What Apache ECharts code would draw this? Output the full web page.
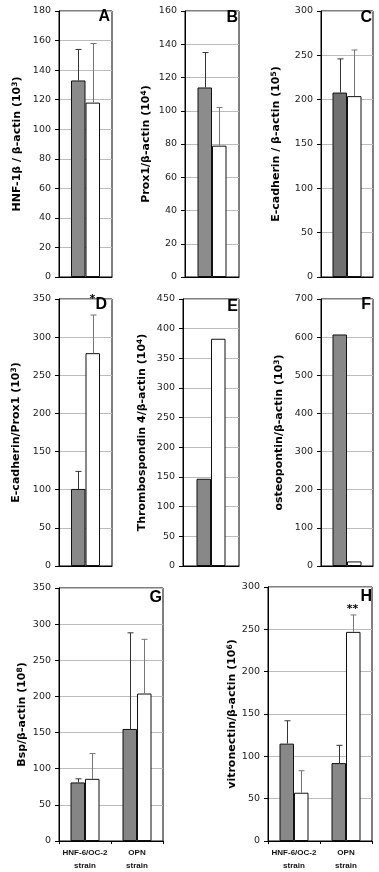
<!DOCTYPE html>
<html>
<head>
<meta charset="utf-8">
<script src="https://cdn.jsdelivr.net/npm/echarts@6/dist/echarts.min.js"></script>
<style>html,body{margin:0;padding:0;background:#fff;}#c{width:379px;height:872px;}</style>
</head>
<body>
<div id="c"></div>
<script>
// ---- data ----
const singleCat = [''];
const strainCats = ['HNF-6/OC-2\nstrain', 'OPN\nstrain'];

const aGray = [133], aWhite = [118], aGrayErr = [21], aWhiteErr = [40];
const bGray = [114], bWhite = [79], bGrayErr = [21], bWhiteErr = [23];
const cGray = [208], cWhite = [204], cGrayErr = [38], cWhiteErr = [52];
const dGray = [101], dWhite = [279], dGrayErr = [23], dWhiteErr = [50];
const eGray = [147], eWhite = [383];
const fGray = [607], fWhite = [12];
const gGray = [81, 155], gWhite = [86, 204], gGrayErr = [5, 133], gWhiteErr = [35, 75];
const hGray = [115, 92], hWhite = [57, 247], hGrayErr = [27, 21], hWhiteErr = [26, 20];

const dWhiteSig = ['*'];
const hWhiteSig = ['', '**'];

const yMax = [180, 160, 300, 350, 450, 700, 350, 300];
const yStep = [20, 20, 50, 50, 50, 100, 50, 50];
const panelLetters = ['A', 'B', 'C', 'D', 'E', 'F', 'G', 'H'];
const yTitles = [
  ['HNF-1β / β-actin (10', '3', ')'],
  ['Prox1/β-actin (10', '4', ')'],
  ['E-cadherin / β-actin (10', '5', ')'],
  ['E-cadherin/Prox1 (10', '3', ')'],
  ['Thrombospondin 4/β-actin (10', '4', ')'],
  ['osteopontin/β-actin (10', '3', ')'],
  ['Bsp/β-actin (10', '8', ')'],
  ['vitronectin/β-actin (10', '6', ')']
];

const panelData = [
  {cats: singleCat, gray: aGray, white: aWhite, grayErr: aGrayErr, whiteErr: aWhiteErr},
  {cats: singleCat, gray: bGray, white: bWhite, grayErr: bGrayErr, whiteErr: bWhiteErr},
  {cats: singleCat, gray: cGray, white: cWhite, grayErr: cGrayErr, whiteErr: cWhiteErr},
  {cats: singleCat, gray: dGray, white: dWhite, grayErr: dGrayErr, whiteErr: dWhiteErr, whiteSig: dWhiteSig},
  {cats: singleCat, gray: eGray, white: eWhite},
  {cats: singleCat, gray: fGray, white: fWhite},
  {cats: strainCats, gray: gGray, white: gWhite, grayErr: gGrayErr, whiteErr: gWhiteErr},
  {cats: strainCats, gray: hGray, white: hWhite, grayErr: hGrayErr, whiteErr: hWhiteErr, whiteSig: hWhiteSig}
];

// ---- layout / style ----
const layout = [
  {left: 59, top: 11, width: 53, height: 266, gap: 35, fill: '#8a8a8a', letterRight: 110, letterTop: 9, sigDy: 0},
  {left: 185, top: 11, width: 54, height: 266, gap: 32, fill: '#8c8c8c', letterRight: 238, letterTop: 10},
  {left: 321, top: 11, width: 52, height: 266, gap: 38, fill: '#707070', letterRight: 372, letterTop: 10},
  {left: 59, top: 299, width: 53, height: 267, gap: 36, fill: '#888888', letterRight: 107, letterTop: 297, sigDy: -9},
  {left: 183, top: 299, width: 56, height: 267, gap: 34, fill: '#888888', letterRight: 238, letterTop: 299},
  {left: 321, top: 299, width: 52, height: 267, gap: 35, fill: '#888888', letterRight: 371, letterTop: 297},
  {left: 59, top: 588, width: 104, height: 255, gap: 30, fill: '#858585', letterRight: 162, letterTop: 590},
  {left: 268, top: 587, width: 104, height: 255, gap: 29, fill: '#888888', letterRight: 372, letterTop: 589, sigDy: 1}
];
const BW = 14.5;
const W = 379;

const grid = [], xAxis = [], yAxis = [], series = [], title = [];

layout.forEach((L, i) => {
  const P = panelData[i];
  grid.push({left: L.left, top: L.top, width: L.width, height: L.height,
    show: true, borderColor: '#000', borderWidth: 1, backgroundColor: '#fff'});
  xAxis.push({type: 'category', gridIndex: i, data: P.cats,
    axisLine: {show: true, lineStyle: {color: '#000', width: 1}},
    axisTick: {show: P.cats.length > 1, length: 3, lineStyle: {color: '#000'}},
    axisLabel: {show: P.cats.length > 1, interval: 0, fontFamily: 'Liberation Sans', fontWeight: 'bold',
      fontSize: 8, color: '#111', lineHeight: 13, margin: 5},
    splitLine: {show: false}});
  const t = yTitles[i];
  yAxis.push({type: 'value', gridIndex: i, min: 0, max: yMax[i], interval: yStep[i],
    name: '{t|' + t[0] + '}{s|' + t[1] + '}{t|' + t[2] + '}',
    nameLocation: 'middle', nameGap: L.gap,
    nameTextStyle: {rich: {
      t: {fontFamily: 'DejaVu Sans', fontWeight: 'bold', fontSize: 11, color: '#000'},
      s: {fontFamily: 'DejaVu Sans', fontWeight: 'bold', fontSize: 7.5, color: '#000', verticalAlign: 'top', padding: [0, 0, 5, 0]}
    }},
    axisLine: {show: true, lineStyle: {color: '#000', width: 1}},
    axisTick: {show: true, length: 4, lineStyle: {color: '#000'}},
    axisLabel: {fontFamily: 'DejaVu Sans', fontSize: 9.5, color: '#222', margin: 8},
    splitLine: {show: true, lineStyle: {color: '#bcbcbc', width: 1}}});
  series.push({type: 'bar', xAxisIndex: i, yAxisIndex: i, data: P.gray, barWidth: BW, barGap: '0%',
    itemStyle: {color: L.fill, borderColor: '#111', borderWidth: 1}, silent: true, animation: false});
  series.push({type: 'bar', xAxisIndex: i, yAxisIndex: i, data: P.white, barWidth: BW, barGap: '0%',
    itemStyle: {color: '#fff', borderColor: '#111', borderWidth: 1}, silent: true, animation: false});

  const errData = [];
  if (P.grayErr) P.gray.forEach((v, k) => errData.push([k, v, P.grayErr[k], -1, '']));
  if (P.whiteErr) P.white.forEach((v, k) => errData.push([k, v, P.whiteErr[k], 1, P.whiteSig ? P.whiteSig[k] : '']));
  if (errData.length) {
    const sigDy = L.sigDy || 0;
    series.push({type: 'custom', xAxisIndex: i, yAxisIndex: i, data: errData, silent: true, animation: false,
      encode: {x: 0, y: 1}, z: 5,
      renderItem: function (params, api) {
        const cat = api.value(0), mean = api.value(1), err = api.value(2), side = api.value(3);
        const base = api.coord([cat, mean]);
        const top = api.coord([cat, mean + err]);
        const x = Math.round(base[0] + side * BW / 2) + 0.5;
        const col = side < 0 ? '#333' : '#777';
        const children = [
          {type: 'line', shape: {x1: x, y1: base[1], x2: x, y2: top[1]}, style: {stroke: col, lineWidth: 1}},
          {type: 'line', shape: {x1: x - 3, y1: top[1], x2: x + 3, y2: top[1]}, style: {stroke: col, lineWidth: 1}}
        ];
        const sig = errData[params.dataIndex][4];
        if (sig) {
          children.push({type: 'text', style: {text: sig, x: x - 1, y: top[1] - 1 + sigDy, align: 'center', verticalAlign: 'bottom',
            font: 'bold 11px "DejaVu Sans"', fill: '#000'}});
        }
        return {type: 'group', children: children};
      }});
  }
  title.push({text: panelLetters[i], right: W - L.letterRight, top: L.letterTop, padding: 0,
    textStyle: {fontFamily: 'Liberation Sans', fontWeight: 'bold', fontSize: 16, color: '#000'}});
});

const chart = echarts.init(document.getElementById('c'), null, {renderer: 'canvas'});
chart.setOption({animation: false, backgroundColor: '#fff', title, grid, xAxis, yAxis, series});
</script>
</body>
</html>
